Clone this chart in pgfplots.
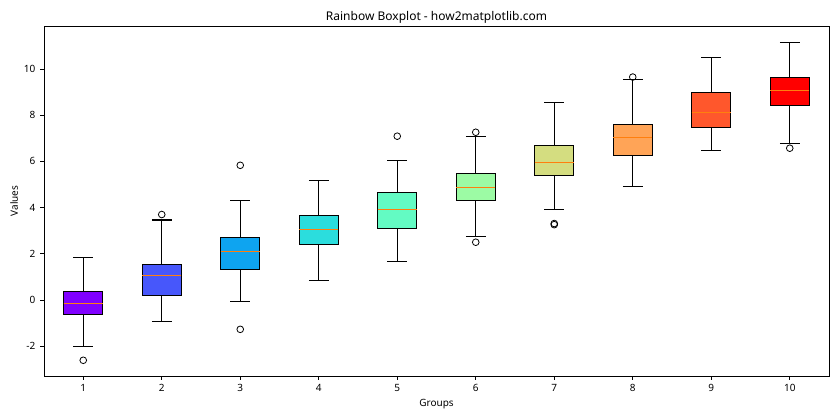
\documentclass[border=0pt]{standalone}
\usepackage{pgfplots}
\pgfplotsset{compat=1.18}
\usepgfplotslibrary{statistics}
\usepackage{fontspec}
\setmainfont{Noto Sans}

% rainbow colormap, 10 steps
\definecolor{c1}{RGB}{128,0,255}
\definecolor{c2}{RGB}{71,87,251}
\definecolor{c3}{RGB}{14,164,240}
\definecolor{c4}{RGB}{43,221,221}
\definecolor{c5}{RGB}{99,251,195}
\definecolor{c6}{RGB}{156,251,164}
\definecolor{c7}{RGB}{212,221,128}
\definecolor{c8}{RGB}{255,164,87}
\definecolor{c9}{RGB}{255,87,44}
\definecolor{c10}{RGB}{255,0,0}
\definecolor{medc}{RGB}{255,127,14}

\pgfplotsset{
  bx/.style={draw=black, line width=0.9pt, fill=#1,
    boxplot/draw direction=y,
    boxplot/box extend=0.5, boxplot/whisker extend=0.25,
    mark=o, mark size=2.5pt, mark options={draw=black, line width=0.6pt, solid},
    boxplot/every whisker/.style={black, fill=none, line width=0.9pt},
    boxplot/every median/.style={draw=medc, line width=0.8pt}},
}

\begin{document}
\begin{tikzpicture}
\path[use as bounding box] (-33pt,-33pt) rectangle (597pt,282pt);
\begin{axis}[
  scale only axis, width=588.75pt, height=262.5pt,
  xmin=0.5, xmax=10.5, ymin=-3.29, ymax=11.86,
  xtick={1,...,10}, ytick={-2,0,...,10},
  tick align=outside, xtick pos=bottom, ytick pos=left,
  major tick length=3pt,
  tick style={black, line width=0.6pt},
  axis line style={line width=0.6pt},
  ticklabel style={font=\fontsize{7.5}{9}\selectfont},
  /pgf/number format/assume math mode=true,
  title={Rainbow Boxplot - how2matplotlib.com},
  every axis title shift=0pt,
  title style={font=\fontsize{9}{11}\selectfont, at={(axis description cs:0.5,1)}, anchor=base, yshift=4pt, inner sep=0pt},
  xlabel={Groups},
  xlabel style={font=\fontsize{7.5}{9}\selectfont, at={(axis description cs:0.5,-0.08)}, anchor=center},
  ylabel={Values},
  ylabel style={font=\fontsize{7.5}{9}\selectfont, at={(axis description cs:-0.038,0.5)}, anchor=center},
]
\addplot[bx=c1, boxplot prepared={draw position=1, lower whisker=-2.0, lower quartile=-0.62, median=-0.14, upper quartile=0.36, upper whisker=1.85}] coordinates {(1,-2.61)};
\addplot[bx=c2, boxplot prepared={draw position=2, lower whisker=-0.92, lower quartile=0.2, median=1.07, upper quartile=1.53, upper whisker=3.46}] coordinates {(2,3.7)};
\addplot[bx=c3, boxplot prepared={draw position=3, lower whisker=-0.06, lower quartile=1.33, median=2.11, upper quartile=2.71, upper whisker=4.31}] coordinates {(3,5.83)(3,-1.27)};
\addplot[bx=c4, boxplot prepared={draw position=4, lower whisker=0.85, lower quartile=2.41, median=3.06, upper quartile=3.67, upper whisker=5.18}] coordinates {};
\addplot[bx=c5, boxplot prepared={draw position=5, lower whisker=1.68, lower quartile=3.10, median=3.93, upper quartile=4.66, upper whisker=6.05}] coordinates {(5,7.09)};
\addplot[bx=c6, boxplot prepared={draw position=6, lower whisker=2.76, lower quartile=4.32, median=4.88, upper quartile=5.48, upper whisker=7.09}] coordinates {(6,7.26)(6,2.50)};
\addplot[bx=c7, boxplot prepared={draw position=7, lower whisker=3.93, lower quartile=5.40, median=5.96, upper quartile=6.70, upper whisker=8.56}] coordinates {(7,3.31)(7,3.26)};
\addplot[bx=c8, boxplot prepared={draw position=8, lower whisker=4.92, lower quartile=6.26, median=7.04, upper quartile=7.61, upper whisker=9.55}] coordinates {(8,9.65)};
\addplot[bx=c9, boxplot prepared={draw position=9, lower whisker=6.48, lower quartile=7.48, median=8.13, upper quartile=8.99, upper whisker=10.51}] coordinates {};
\addplot[bx=c10, boxplot prepared={draw position=10, lower whisker=6.78, lower quartile=8.43, median=9.08, upper quartile=9.64, upper whisker=11.16}] coordinates {(10,6.57)};
\end{axis}
\end{tikzpicture}
\end{document}
